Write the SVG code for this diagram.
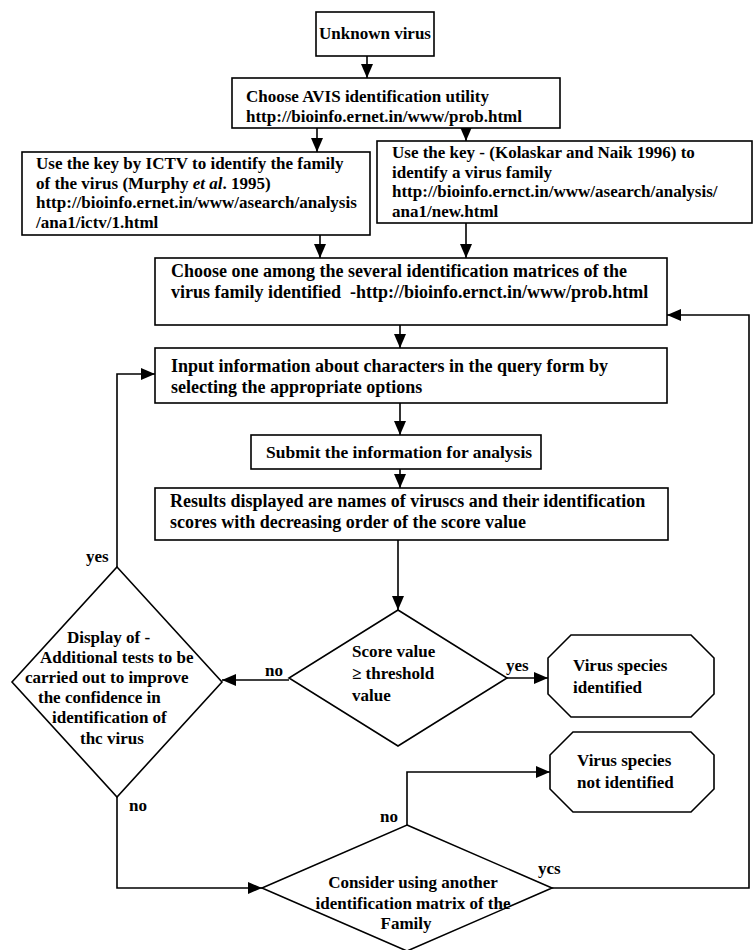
<svg xmlns="http://www.w3.org/2000/svg" width="755" height="950" viewBox="0 0 755 950">
<style>
.b{fill:#fff;stroke:#000;stroke-width:1.6}
.t{font-family:"Liberation Serif","Times New Roman",serif;font-size:17px;font-weight:bold;fill:#000}
.m{font-size:18px}
.c{text-anchor:middle}
.l{fill:none;stroke:#000;stroke-width:1.6}
</style>
<defs>
<marker id="ah" viewBox="0 0 14 12" refX="14" refY="6" markerWidth="14" markerHeight="12" markerUnits="userSpaceOnUse" orient="auto"><path d="M0,0 L14,6 L0,12 z" fill="#000"/></marker>
</defs>
<rect width="755" height="950" fill="#fff"/>
<g id="connectors">
<path class="l" d="M367,56 V78" marker-end="url(#ah)"/>
<path class="l" d="M317,128 V152" marker-end="url(#ah)"/>
<path class="l" d="M466,128 V141" marker-end="url(#ah)"/>
<path class="l" d="M320,235 V258" marker-end="url(#ah)"/>
<path class="l" d="M466,223 V258" marker-end="url(#ah)"/>
<path class="l" d="M400,325 V348" marker-end="url(#ah)"/>
<path class="l" d="M400,403 V435" marker-end="url(#ah)"/>
<path class="l" d="M400,469 V488" marker-end="url(#ah)"/>
<path class="l" d="M398,540 V610" marker-end="url(#ah)"/>
<path class="l" d="M507,678 H548" marker-end="url(#ah)"/>
<path class="l" d="M289,680 H222" marker-end="url(#ah)"/>
<path class="l" d="M117,567 V374 H155" marker-end="url(#ah)"/>
<path class="l" d="M117,797 V888 H262" marker-end="url(#ah)"/>
<path class="l" d="M407,825 V772 H550" marker-end="url(#ah)"/>
<path class="l" d="M552,888 H749 V315 H667" marker-end="url(#ah)"/>
<text class="t" x="506" y="671">yes</text>
<text class="t" x="265" y="676">no</text>
<text class="t" x="86" y="562">yes</text>
<text class="t" x="129" y="811">no</text>
<text class="t" x="380" y="822">no</text>
<text class="t" x="538" y="874">ycs</text>
</g>
<g id="unknown">
<rect class="b" x="316" y="12" width="118" height="44"/>
<text class="t c" x="375" y="39">Unknown virus</text>
</g>
<g id="avis">
<rect class="b" x="232" y="78" width="328" height="50"/>
<text class="t" x="246" y="102">Choose AVIS identification utility</text>
<text class="t" x="246" y="121.6">http://bioinfo.ernet.in/www/prob.html</text>
</g>
<g id="ictv">
<rect class="b" x="22" y="152" width="348" height="83"/>
<text class="t" x="36" y="169">Use the key by ICTV to identify the family</text>
<text class="t" x="36" y="188.6">of the virus (Murphy <tspan font-style="italic">et al</tspan>. 1995)</text>
<text class="t" x="36" y="208.2">http://bioinfo.ernet.in/www/asearch/analysis</text>
<text class="t" x="36" y="227.8">/ana1/ictv/1.html</text>
</g>
<g id="kolaskar">
<rect class="b" x="377" y="141" width="375" height="82"/>
<text class="t" x="392" y="158">Use the key - (Kolaskar and Naik 1996) to</text>
<text class="t" x="392" y="177.6">identify a virus family</text>
<text class="t" x="392" y="197.2">http://bioinfo.ernct.in/www/asearch/analysis/</text>
<text class="t" x="392" y="216.8">ana1/new.html</text>
</g>
<g id="matrix">
<rect class="b" x="155" y="258" width="512" height="67"/>
<text class="t m" x="171" y="277">Choose one among the several identification matrices of the</text>
<text class="t m" x="171" y="298" xml:space="preserve">virus family identified  -http://bioinfo.ernct.in/www/prob.html</text>
</g>
<g id="input">
<rect class="b" x="155" y="348" width="512" height="55"/>
<text class="t m" x="171" y="372">Input information about characters in the query form by</text>
<text class="t m" x="171" y="392.7">selecting the appropriate options</text>
</g>
<g id="submit">
<rect class="b" x="251" y="435" width="290" height="34"/>
<text class="t" x="266" y="458" style="font-size:17.5px">Submit the information for analysis</text>
</g>
<g id="results">
<rect class="b" x="155" y="488" width="513" height="52"/>
<text class="t m" x="170" y="507">Results displayed are names of viruscs and their identification</text>
<text class="t m" x="170" y="528">scores with decreasing order of the score value</text>
</g>
<g id="score">
<polygon class="b" points="398,610 507,678 398,746 289,678"/>
<text class="t" x="352" y="657">Score value</text>
<text class="t" x="352" y="679">≥ threshold</text>
<text class="t" x="352" y="701">value</text>
</g>
<g id="identified">
<polygon class="b" points="571,635 691,635 714,658 714,694 691,717 571,717 548,694 548,658"/>
<text class="t" x="573" y="671">Virus species</text>
<text class="t" x="573" y="693">identified</text>
</g>
<g id="additional">
<polygon class="b" points="117,567 222,682 117,797 12,682"/>
<text class="t" x="67" y="643">Display of -</text>
<text class="t" x="40" y="663">Additional tests to be</text>
<text class="t" x="25" y="683">carried out to improve</text>
<text class="t" x="38" y="703">the confidence in</text>
<text class="t" x="52" y="723">identification of</text>
<text class="t" x="80" y="744">thc virus</text>
</g>
<g id="notidentified">
<polygon class="b" points="573,732 691,732 714,755 714,789 691,812 573,812 550,789 550,755"/>
<text class="t" x="577" y="766">Virus species</text>
<text class="t" x="577" y="788">not identified</text>
</g>
<g id="consider">
<polygon class="b" points="407,825 552,888 407,951 262,888"/>
<text class="t c" x="413" y="888">Consider using another</text>
<text class="t c" x="413" y="909">identification matrix of the</text>
<text class="t c" x="406" y="929">Family</text>
</g>
</svg>
